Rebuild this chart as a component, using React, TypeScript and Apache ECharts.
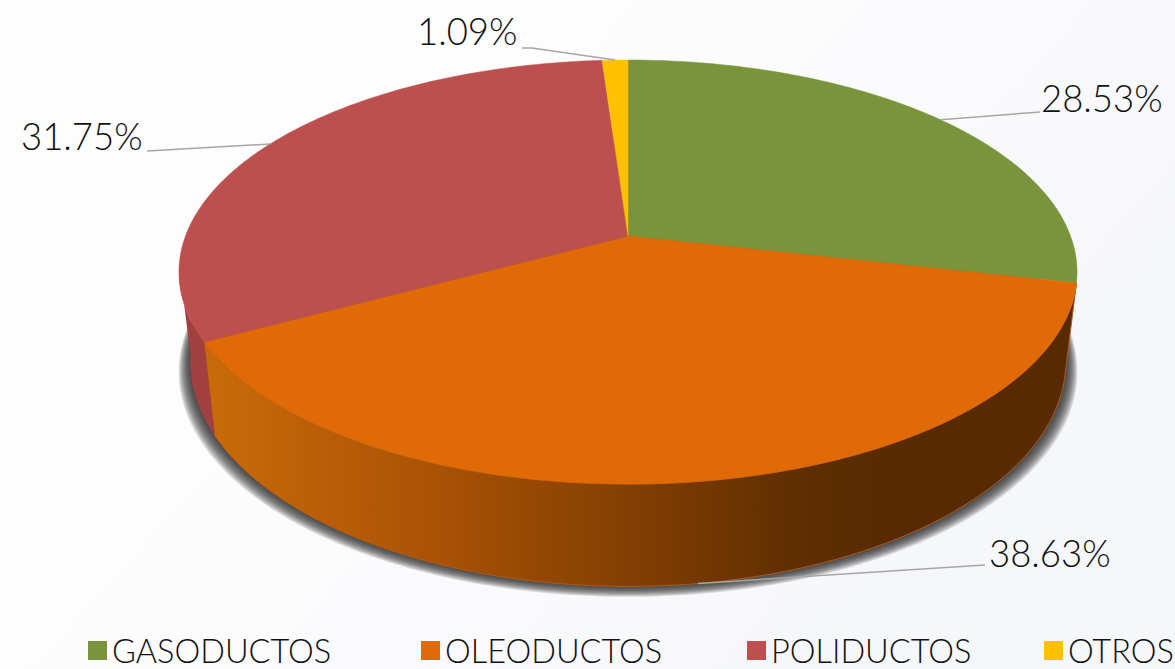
import React, { useEffect, useRef } from "react";
import * as echarts from "echarts";

const categories = ["GASODUCTOS", "OLEODUCTOS", "POLIDUCTOS", "OTROS"];
const shares = [28.53, 38.63, 31.75, 1.09];
const colors = ["#7a943c", "#e06a06", "#bd504e", "#ffc000"];
const legendLefts = [88, 421, 747, 1044];

const FONT = "Lato";
const total = shares.reduce((a, b) => a + b, 0);
const starts: number[] = [];
shares.reduce((acc, v, i) => {
  starts[i] = acc;
  return acc + v;
}, 0);

// perspective projection of the disc
const CX = 628, TOP_Y = 236, BOTTOM_Y = 323;
const K = 0.17, A_TOP = 205.9, A_BOTTOM = 218.6, B = 442.5, B_SCALE = 0.975;
const toAngle = (cum: number) => (cum / total) * Math.PI * 2;
const rimTop = (t: number): number[] => {
  const d = 1 + K * Math.cos(t);
  return [CX + (B * Math.sin(t)) / d, TOP_Y - (A_TOP * Math.cos(t)) / d];
};
const rimBottom = (t: number): number[] => {
  const d = 1 + K * Math.cos(t);
  return [CX + (B * B_SCALE * Math.sin(t)) / d, BOTTOM_Y - (A_BOTTOM * Math.cos(t)) / d];
};
const arc = (fn: (t: number) => number[], a: number, b: number): number[][] => {
  const n = Math.max(2, Math.ceil((Math.abs(b - a) * 180) / Math.PI));
  const out: number[][] = [];
  for (let i = 0; i <= n; i++) out.push(fn(a + ((b - a) * i) / n));
  return out;
};

// label placement: text anchor and leader path after the rim point
const labelText = [
  { x: 1041, y: 98, path: [[1040, 112]] },
  { x: 989, y: 553, path: [[985, 565]] },
  { x: 21, y: 136, path: [[147, 151]] },
  { x: 417, y: 31, path: [[532, 48], [522, 48]] },
];

const wallFill = [
  null,
  {
    type: "linear", global: true, x: 213, y: 0, x2: 900, y2: 0,
    colorStops: [
      { offset: 0, color: "#c96a0a" },
      { offset: 0.3, color: "#ac5405" },
      { offset: 0.6, color: "#843f02" },
      { offset: 0.85, color: "#5f2e01" },
      { offset: 1, color: "#582a02" },
    ],
  },
  "#a23f40",
  null,
];

function sliceItem(i: number) {
  return (_params: any, api: any) => {
    const v = api.value(0);
    const a = toAngle(starts[i]);
    const b = toAngle(starts[i] + v);
    const children: any[] = [];
    if (i === 1) {
      const pts = [...arc(rimTop, a, b), ...arc(rimBottom, a, b).reverse()];
      children.push({
        type: "polygon",
        shape: { points: pts },
        style: { fill: wallFill[1], stroke: "#b05a10", lineWidth: 1 },
      });
    }
    if (i === 2) {
      const end = (262 / 180) * Math.PI;
      const pts = [...arc(rimTop, a, end), ...arc(rimBottom, a, end).reverse()];
      children.push({
        type: "polygon",
        shape: { points: pts },
        style: { fill: wallFill[2] },
      });
    }
    children.push({
      type: "polygon",
      shape: { points: [[CX, TOP_Y], ...arc(rimTop, a, b)] },
      style: { fill: colors[i], stroke: colors[i], lineWidth: 0.5 },
    });
    const mid = (a + b) / 2;
    const anchor = i === 1 ? rimBottom(mid) : rimTop(mid);
    children.push({
      type: "polyline",
      shape: { points: [anchor, ...labelText[i].path] },
      style: { fill: "none", stroke: "#a6a6a6", lineWidth: 1.5 },
    });
    children.push({
      type: "text",
      x: labelText[i].x,
      y: labelText[i].y,
      style: {
        text: v.toFixed(2) + "%",
        fill: "#111111",
        font: `300 36.5px ${FONT}`,
        textAlign: "left",
        textVerticalAlign: "middle",
      },
    });
    return { type: "group", children };
  };
}

function shadowItem() {
  const layers: any[] = [];
  for (let j = 11; j >= 1; j--) {
    const pts = arc((t) => {
      const p = rimBottom(t);
      return [CX + (p[0] - CX) * (1 + j * 0.0024), p[1] + j * 0.95];
    }, 0, Math.PI * 2);
    layers.push({
      type: "polygon",
      shape: { points: pts },
      style: { fill: "rgba(40,40,40,0.14)" },
    });
  }
  return { type: "group", children: layers };
}

export default function App() {
  const ref = useRef<HTMLDivElement>(null);
  useEffect(() => {
    const chart = echarts.init(ref.current!, undefined, { renderer: "svg" });
    chart.setOption({
      animation: false,
      backgroundColor: "#fdfdfe",
      tooltip: { show: false },
      legend: categories.map((name, i) => ({
        data: [name],
        icon: "rect",
        left: legendLefts[i],
        top: 634,
        padding: 0,
        itemWidth: 19,
        itemHeight: 19,
        textStyle: { fontFamily: FONT, fontWeight: 300, fontSize: 32.5, color: "#111111" },
        selectedMode: false,
      })),
      graphic: [
        {
          type: "rect",
          z: 0,
          silent: true,
          shape: { x: 0, y: 0, width: 1175, height: 669 },
          style: {
            fill: {
              type: "linear", global: true, x: 330, y: 330, x2: 760, y2: 720,
              colorStops: [
                { offset: 0, color: "#fdfdfe" },
                { offset: 1, color: "#f6f7fa" },
              ],
            },
          },
        },
      ],
      series: [
        {
          type: "custom",
          name: "sombra",
          coordinateSystem: "none",
          silent: true,
          data: [[0]],
          renderItem: shadowItem,
        },
        ...categories.map((name, i) => ({
          type: "custom",
          name,
          coordinateSystem: "none",
          silent: true,
          itemStyle: { color: colors[i] },
          data: [[shares[i]]],
          renderItem: sliceItem(i),
        })),
      ],
    });
    return () => chart.dispose();
  }, []);
  return (
    <div
      ref={ref}
      style={{ position: "absolute", left: 0, top: 0, width: 1175, height: 669 }}
    />
  );
}
